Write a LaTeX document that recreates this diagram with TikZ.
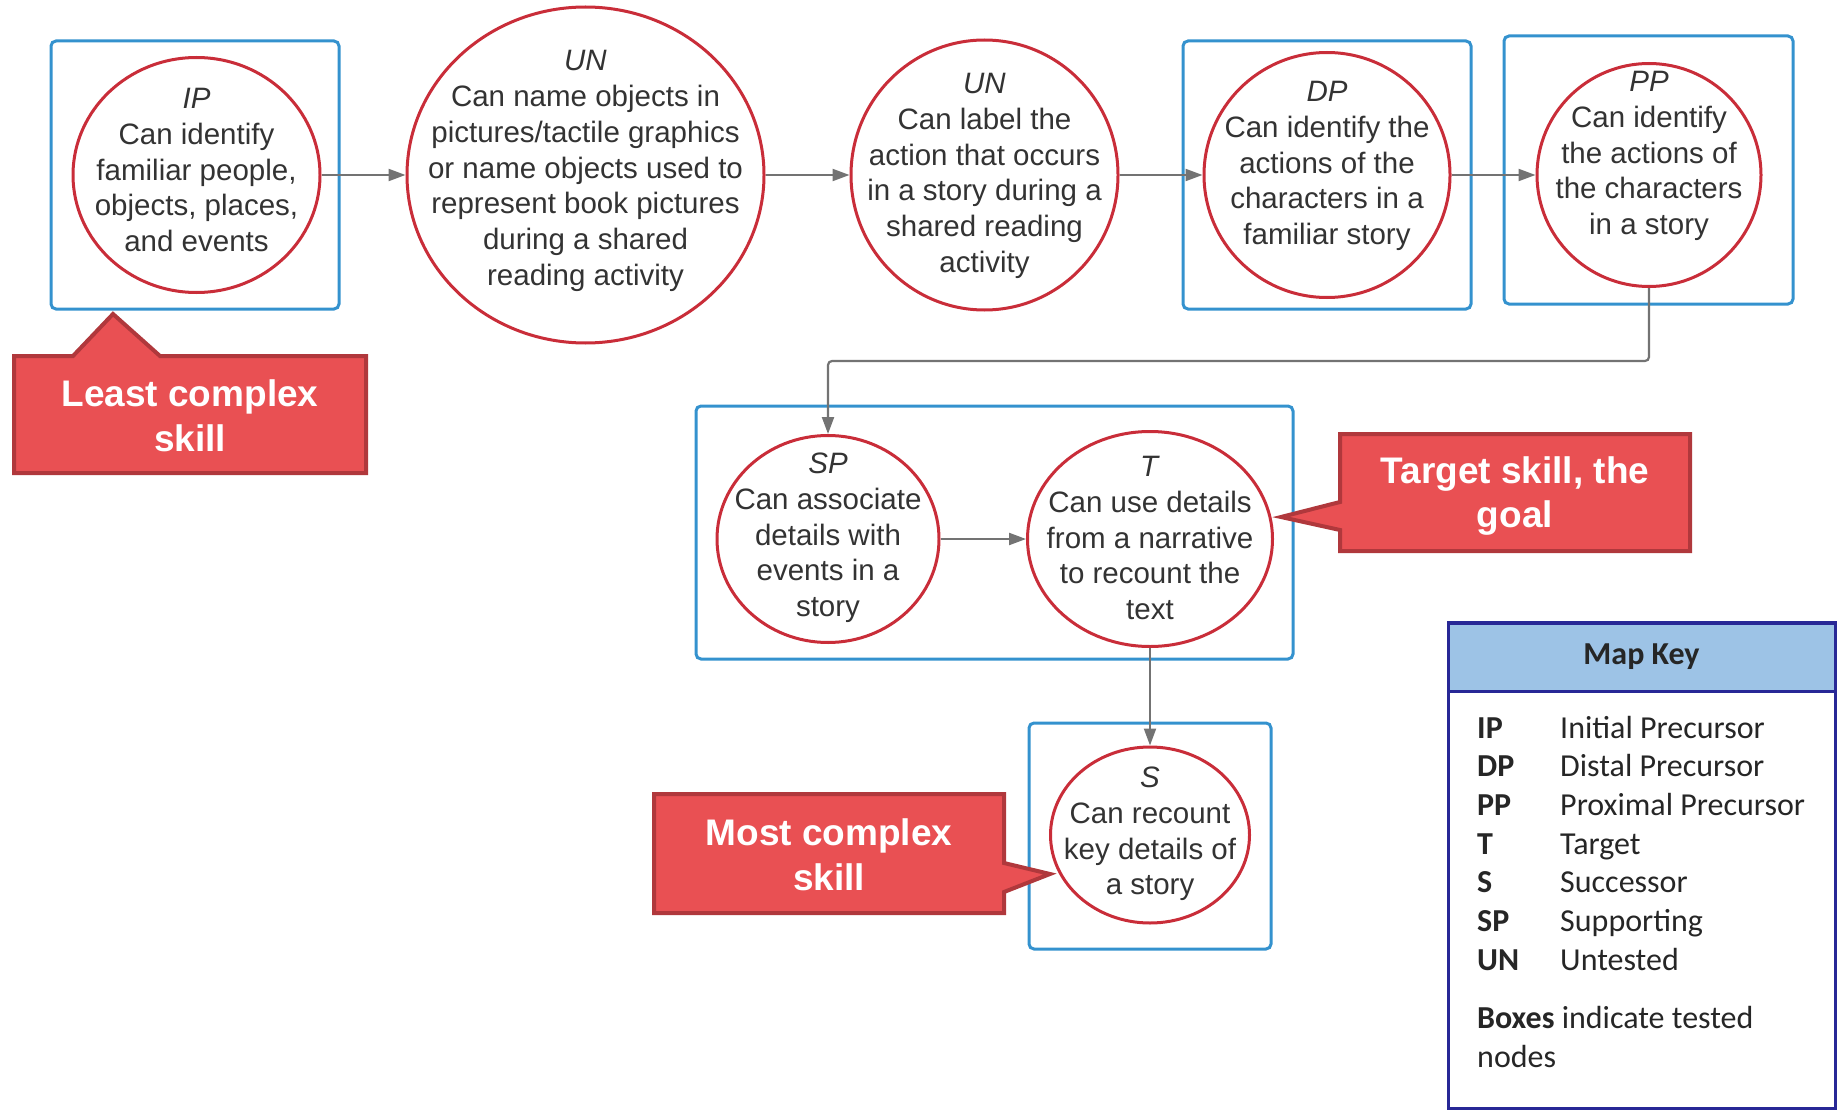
\documentclass[tikz,border=0pt]{standalone}
\usepackage{fontspec}
\setmainfont{Liberation Sans}
\newfontfamily\keyfont{Carlito}
\usepackage{tikz}
\definecolor{boxcolor}{RGB}{52,146,206}
\definecolor{ringcolor}{RGB}{201,45,57}
\definecolor{notecolor}{RGB}{233,80,83}
\definecolor{noteedge}{RGB}{176,56,60}
\definecolor{keyhead}{RGB}{157,195,230}
\definecolor{keyedge}{RGB}{40,40,150}
\definecolor{linkcolor}{RGB}{115,115,115}
\definecolor{lettercolor}{RGB}{51,51,51}
\usetikzlibrary{arrows.meta,shapes,positioning}
\tikzset{
	skill/.style={
		ellipse,
		draw=ringcolor,
		line width=3pt,
		fill=white,
		inner sep=0pt
	},
	skilltext/.style={
		text=lettercolor,
		align=center,
		inner sep=0pt,
		font=\fontsize{29.5}{35.7}\selectfont
	},
	tested/.style={
		rectangle,
		rounded corners=5pt,
		draw=boxcolor,
		line width=3pt
	},
	arrow/.style={
		draw=linkcolor,
		line width=2.2pt,
		->,
		>={Triangle[length=17pt,width=12pt]}
	},
	note/.style={
		fill=notecolor,
		draw=noteedge,
		line width=4pt,
		line join=miter
	},
	notetext/.style={
		text=white,
		align=center,
		inner sep=0pt,
		font=\fontsize{37}{44.5}\selectfont\bfseries
	},
	keyframe/.style={
		rectangle,
		draw=keyedge,
		line width=3pt,
		inner sep=0pt
	},
	keyabbr/.style={
		anchor=base west,
		inner sep=0pt,
		text=black!85,
		font=\keyfont\fontsize{32}{38.7}\selectfont\bfseries
	},
	keydesc/.style={
		anchor=base west,
		inner sep=0pt,
		text=black!85,
		font=\keyfont\fontsize{32}{38.7}\selectfont
	},
}

\begin{document}
\begin{tikzpicture}[x=1pt,y=-1pt]
	\useasboundingbox (0,0) rectangle (1844,1110);

	% boxes round the tested skills
	\node [tested, minimum width=288pt, minimum height=268pt] (ip-box) at (195,175) {};
	\node [tested, minimum width=288pt, minimum height=268pt] (dp-box) at (1327,175) {};
	\node [tested, minimum width=289pt, minimum height=268pt] (pp-box) at (1648.5,170) {};
	\node [tested, minimum width=597pt, minimum height=253pt] (spt-box) at (994.5,532.5) {};
	\node [tested, minimum width=242pt, minimum height=226pt] (s-box) at (1150,836) {};

	% skills
	\node [skill, minimum width=247pt, minimum height=235pt] (ip) at (196.5,175) {};
	\node [skill, minimum width=357pt, minimum height=336pt] (una) at (585.5,175) {};
	\node [skill, minimum width=267pt, minimum height=270pt] (unb) at (984.5,175) {};
	\node [skill, minimum width=246pt, minimum height=245pt] (dp) at (1327,175) {};
	\node [skill, minimum width=224pt, minimum height=223pt] (pp) at (1649,175) {};
	\node [skill, minimum width=222pt, minimum height=207pt] (sp) at (828,539) {};
	\node [skill, minimum width=245pt, minimum height=215pt] (t) at (1150,539) {};
	\node [skill, minimum width=199pt, minimum height=176pt] (s) at (1150,835) {};

	\node [skilltext] (ip-text) at (196.5,170) {\textit{IP}\\Can identify\\familiar people,\\objects, places,\\and events};
	\node [skilltext] (una-text) at (585.5,171) {\textit{UN}\\Can name objects in\\pictures/tactile graphics\\or name objects used to\\represent book pictures\\during a shared\\reading activity};
	\node [skilltext] (unb-text) at (984.5,176) {\textit{UN}\\Can label the\\action that occurs\\in a story during a\\shared reading\\activity};
	\node [skilltext] (dp-text) at (1327,166) {\textit{DP}\\Can identify the\\actions of the\\characters in a\\familiar story};
	\node [skilltext] (pp-text) at (1649,156) {\textit{PP}\\Can identify\\the actions of\\the characters\\in a story};
	\node [skilltext] (sp-text) at (828,538) {\textit{SP}\\Can associate\\details with\\events in a\\story};
	\node [skilltext] (t-text) at (1150,538) {\textit{T}\\Can use details\\from a narrative\\to recount the\\text};
	\node [skilltext] (s-text) at (1150,834) {\textit{S}\\Can recount\\key details of\\a story};

	\path
	(ip) edge[arrow] (una)
	(una) edge[arrow] (unb)
	(unb) edge[arrow] (dp)
	(dp) edge[arrow] (pp)
	(sp) edge[arrow] (t)
	(t) edge[arrow] (s)
	;
	\coordinate (turn) at (1649,361);
	\draw [arrow, rounded corners=4pt] (pp) -- (turn) -| (sp);

	% callouts
	\draw [note] (14,356) -- (73,356) -- (113,314) -- (160,356) -- (366,356) -- (366,473) -- (14,473) -- cycle;
	\node [notetext] (least) at (190,416) {Least complex\\skill};
	\draw [note] (1340,434) -- (1690,434) -- (1690,551) -- (1340,551) -- (1340,530) -- (1281,517) -- (1340,502) -- cycle;
	\node [notetext] (goal) at (1515,496) {Target skill, the\\goal};
	\draw [note] (654,794) -- (1004,794) -- (1004,863) -- (1050,874) -- (1004,892) -- (1004,913) -- (654,913) -- cycle;
	\node [notetext] (most) at (829,855) {Most complex\\skill};

	% map key
	\node [keyframe, minimum width=387pt, minimum height=486pt] (key) at (1641.5,865) {};
	\node [keyframe, fill=keyhead, minimum width=387pt, minimum height=68pt, text=black!85,
		font=\keyfont\fontsize{32}{38.7}\selectfont\bfseries] (key-head) at (1641.5,657) {Map Key};
	\node [keyabbr] (k-ip) at (1477,738) {IP};
	\node [keydesc] (k-ip-d) at (1560,738) {Initial Precursor};
	\node [keyabbr] (k-dp) at (1477,776.7) {DP};
	\node [keydesc] (k-dp-d) at (1560,776.7) {Distal Precursor};
	\node [keyabbr] (k-pp) at (1477,815.4) {PP};
	\node [keydesc] (k-pp-d) at (1560,815.4) {Proximal Precursor};
	\node [keyabbr] (k-t) at (1477,854.1) {T};
	\node [keydesc] (k-t-d) at (1560,854.1) {Target};
	\node [keyabbr] (k-s) at (1477,892.8) {S};
	\node [keydesc] (k-s-d) at (1560,892.8) {Successor};
	\node [keyabbr] (k-sp) at (1477,931.5) {SP};
	\node [keydesc] (k-sp-d) at (1560,931.5) {Supporting};
	\node [keyabbr] (k-un) at (1477,970.2) {UN};
	\node [keydesc] (k-un-d) at (1560,970.2) {Untested};
	\node [keydesc] (k-note) at (1477,1028) {\textbf{Boxes} indicate tested};
	\node [keydesc] (k-note-b) at (1477,1067) {nodes};
\end{tikzpicture}
\end{document}
